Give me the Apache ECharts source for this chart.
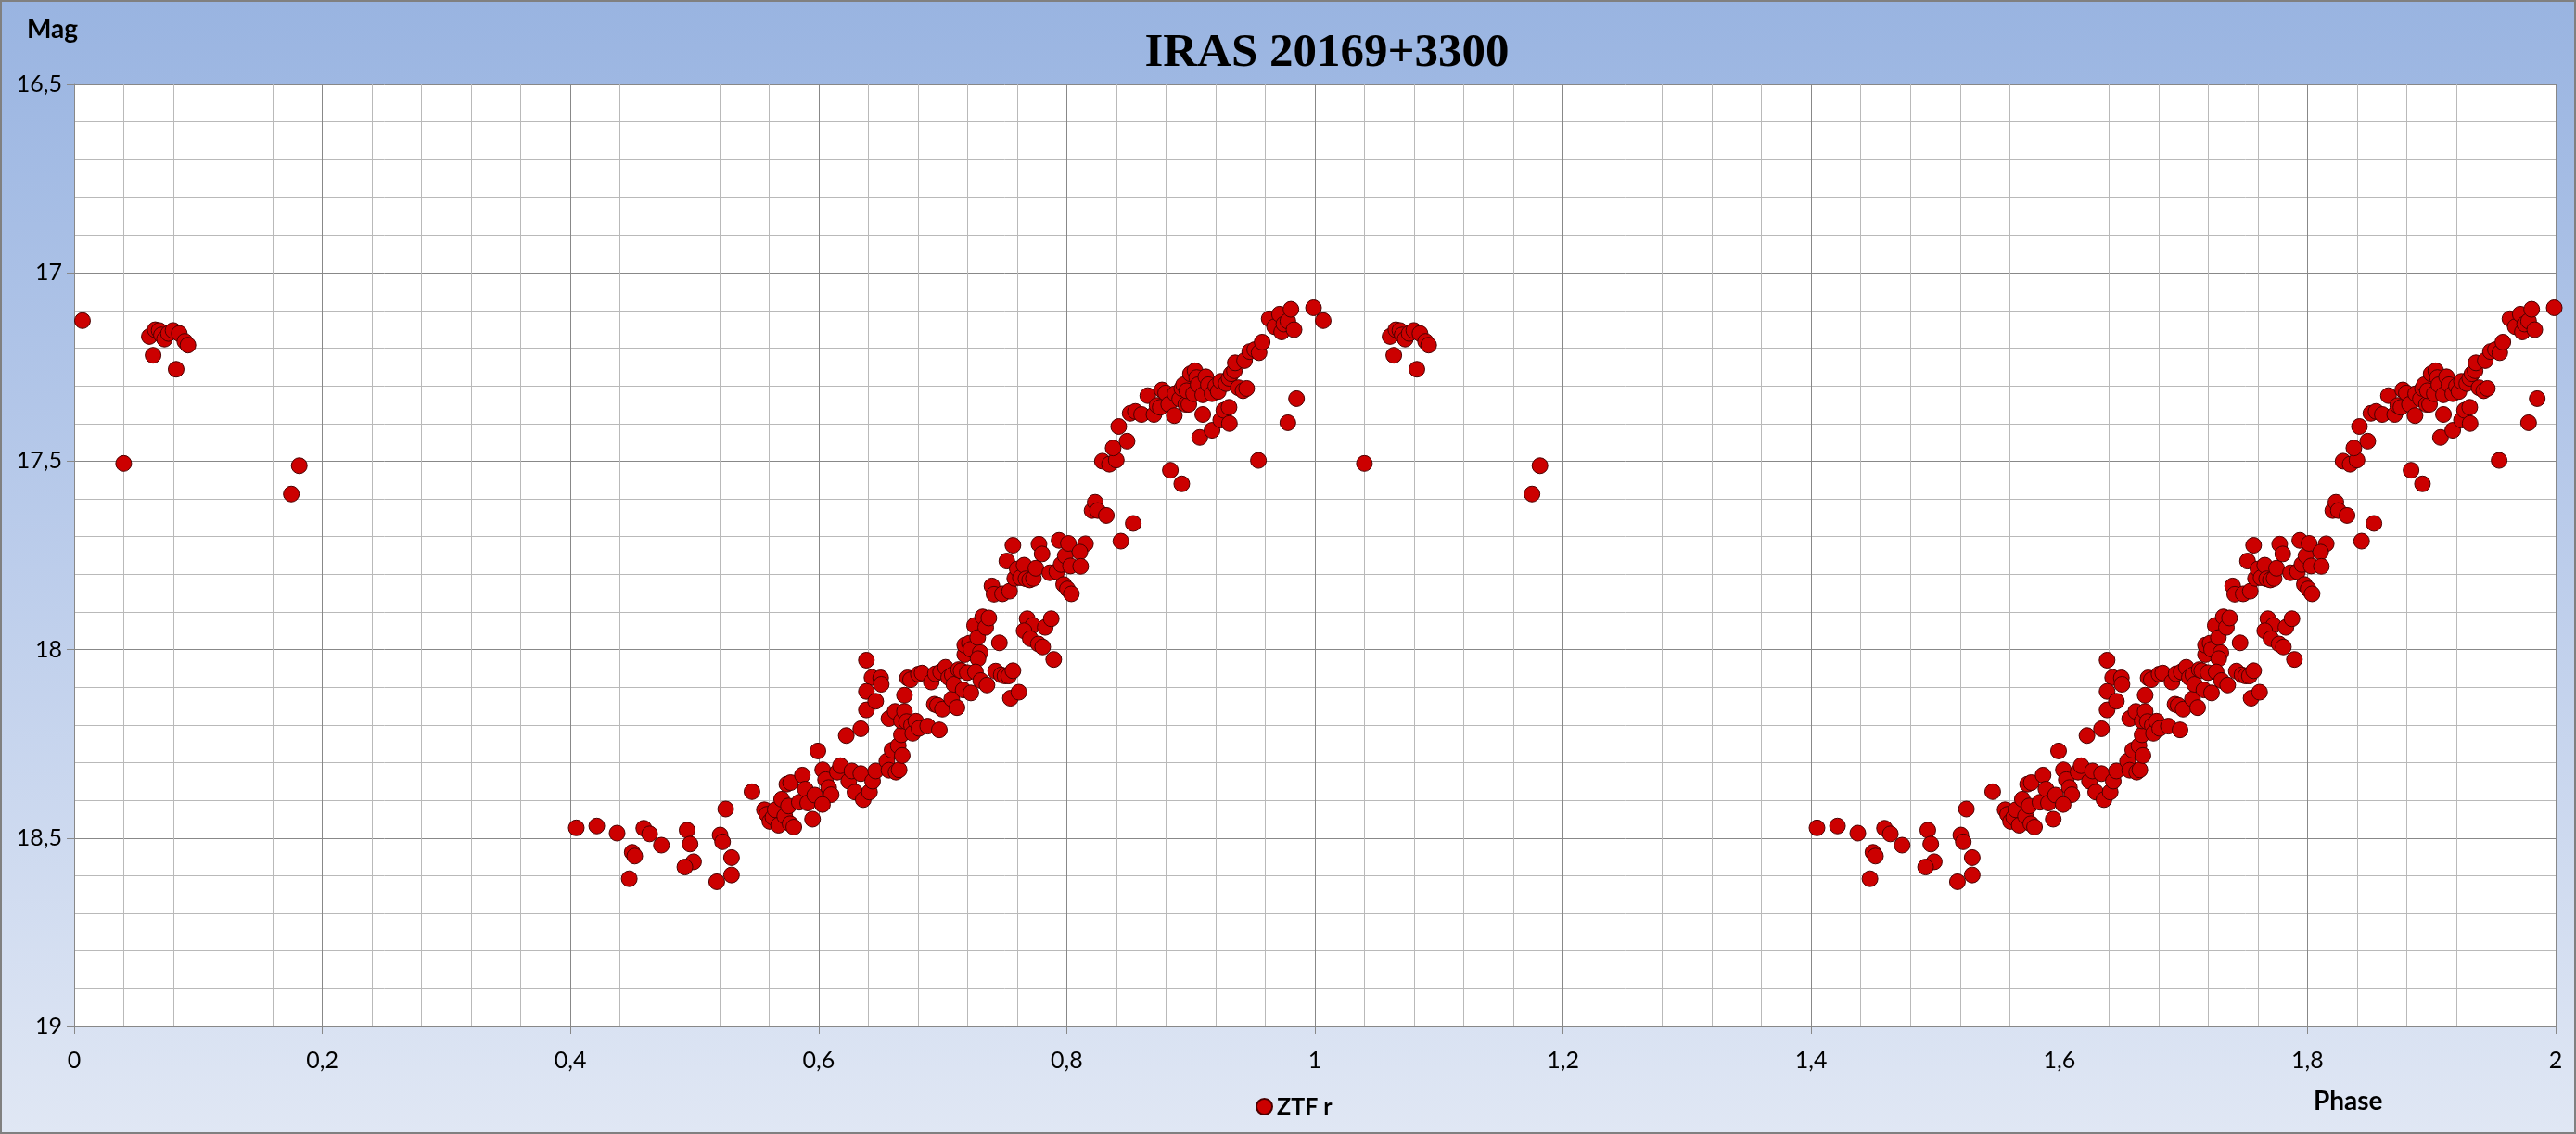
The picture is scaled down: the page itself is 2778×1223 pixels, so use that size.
<!DOCTYPE html>
<html><head><meta charset="utf-8">
<script src="https://cdn.jsdelivr.net/npm/echarts@6/dist/echarts.min.js"></script>
<style>html,body{margin:0;padding:0;background:#fff}#c{width:2778px;height:1223px}</style>
</head><body><div id="c"></div>
<script>
const chartTitle = 'IRAS 20169+3300';
const seriesName = 'ZTF r';
const yAxisTitle = 'Mag';
const xAxisTitle = 'Phase';

// Folded light curve (phase 0..1); the chart shows it over two cycles
const phase = [
0.0067,0.0399,0.0606,0.0636,0.0653,0.0685,0.0703,0.0728,0.0760,0.0797,0.0822,0.0847,0.0892,0.0917,0.1750,0.1814,
0.4047,0.4212,0.4376,0.4591,0.4638,0.4498,0.4518,0.4474,0.4733,0.4940,0.4964,0.4992,0.4922,0.5206,0.5226,0.5251,0.5298,0.5298,0.5179,0.5463,
0.5563,0.5583,0.5607,0.5632,0.5650,0.5677,0.5702,0.5727,0.5744,0.5774,0.5757,0.5770,0.5800,0.5844,0.5869,0.5892,0.5912,0.5969,0.5951,0.5994,
0.6033,0.6056,0.6081,0.6101,0.6031,0.6151,0.6176,0.6223,0.6243,0.6268,0.6293,0.6340,0.6340,0.6360,0.6385,0.6430,0.6385,0.6385,0.6460,0.6500,
0.6505,0.6410,0.6435,0.6460,0.6550,0.6567,0.6624,0.6649,0.6592,0.6642,0.6674,0.6667,0.6567,0.6617,0.6667,0.6692,0.6692,0.6709,0.6749,0.6759,
0.6784,0.6809,0.6879,0.6973,0.6716,0.6741,0.6804,0.6834,0.6908,0.6941,0.6933,0.6958,0.6998,0.6983,0.7023,0.7048,0.7077,0.7073,0.7115,0.7090,
0.7128,0.7148,0.7165,0.7178,0.7178,
0.7215,0.7227,0.7257,0.7282,0.7302,0.7285,0.7322,0.7347,0.7372,0.7198,0.7227,0.7264,0.7307,0.7357,0.7427,0.7457,0.7472,0.7502,0.7532,0.7566,
0.7546,0.7614,0.7397,0.7414,0.7482,0.7539,0.7517,0.7566,0.7581,0.7601,0.7626,0.7656,0.7671,0.7701,0.7731,0.7751,0.7776,0.7801,0.7863,0.7920,
0.7938,0.7955,0.7988,0.8013,0.8030,0.7975,0.8005,0.8037,0.7681,0.7726,0.7656,0.7706,0.7771,0.7806,0.7826,0.7875,0.7895,
0.8151,0.8106,0.8112,0.8204,0.8229,0.8249,0.8319,0.8436,0.8536,0.8287,0.8344,0.8399,0.8374,0.8486,0.8419,0.8511,0.8553,0.8603,0.8653,0.8703,
0.8728,0.8753,0.8768,0.8797,0.8822,0.8867,0.8872,0.8910,0.8927,0.8942,0.8959,0.8835,0.8927,
0.8984,0.8997,0.9034,0.9047,0.8967,0.9022,0.9059,0.9096,0.9096,0.9072,0.9121,0.9141,0.9171,0.9171,0.9201,0.9221,0.9241,0.9241,0.9266,0.9284,
0.9308,0.9311,0.9308,0.9326,0.9351,0.9358,0.9383,0.9421,0.9450,0.9433,0.9475,0.9515,0.9550,0.9575,0.9545,0.9632,0.9675,0.9715,0.9732,0.9750,
0.9782,0.9807,0.9832,0.9782,0.9852,0.9989
];
const mag = [
17.127,17.506,17.169,17.219,17.151,17.153,17.165,17.176,17.161,17.153,17.256,17.161,17.182,17.192,17.587,17.512,
18.473,18.468,18.487,18.474,18.489,18.538,18.548,18.608,18.519,18.479,18.516,18.563,18.577,18.492,18.510,18.423,18.552,18.598,18.616,18.377,
18.425,18.437,18.456,18.445,18.425,18.466,18.397,18.442,18.357,18.353,18.415,18.462,18.471,18.405,18.333,18.370,18.407,18.386,18.450,18.269,
18.319,18.345,18.366,18.385,18.411,18.325,18.308,18.228,18.349,18.322,18.378,18.329,18.210,18.398,18.028,18.074,18.111,18.160,18.137,18.075,
18.092,18.378,18.349,18.322,18.296,18.320,18.325,18.319,18.267,18.255,18.281,18.226,18.183,18.164,18.189,18.164,18.121,18.191,18.201,18.222,
18.190,18.209,18.203,18.213,18.075,18.080,18.065,18.062,18.086,18.064,18.145,18.148,18.158,18.059,18.047,18.074,18.067,18.131,18.154,18.092,
18.053,18.056,18.107,18.013,17.988,
17.983,17.999,17.936,17.968,18.008,18.024,17.913,17.941,17.916,18.061,18.115,18.059,18.082,18.094,18.057,17.982,18.067,18.070,18.070,18.056,
18.129,18.113,17.831,17.853,17.852,17.845,17.765,17.723,17.811,17.786,17.809,17.776,17.812,17.815,17.811,17.784,17.720,17.746,17.796,17.793,
17.710,17.774,17.751,17.718,17.778,17.827,17.839,17.852,17.918,17.936,17.950,17.971,17.985,17.993,17.941,17.918,18.026,
17.719,17.741,17.779,17.631,17.609,17.631,17.644,17.712,17.665,17.500,17.508,17.497,17.465,17.447,17.408,17.373,17.368,17.376,17.326,17.376,
17.352,17.357,17.311,17.319,17.349,17.379,17.321,17.335,17.307,17.297,17.349,17.524,17.560,
17.349,17.268,17.260,17.278,17.313,17.321,17.297,17.324,17.376,17.437,17.276,17.297,17.321,17.418,17.301,17.315,17.288,17.391,17.365,17.294,
17.357,17.400,17.280,17.268,17.260,17.239,17.305,17.313,17.307,17.233,17.209,17.204,17.212,17.184,17.498,17.122,17.143,17.110,17.157,17.136,
17.128,17.097,17.151,17.398,17.334,17.093
];
const cycles = [0, 1];

const xMin = 0, xMax = 2, xStep = 0.2;
const yMin = 16.5, yMax = 19, yStep = 0.5;

const points = [];
cycles.forEach(c => phase.forEach((p, i) => points.push([p + c, mag[i]])));

const fmt = v => String(Math.round(v * 10) / 10).replace('.', ',');
const labelFont = 'Lato, "Open Sans", sans-serif';
const majorLine = '#888888';
const minorLine = '#b9b9b9';

const chart = echarts.init(document.getElementById('c'), null, {renderer: 'canvas'});
chart.setOption({
  backgroundColor: {type: 'linear', x: 0, y: 0, x2: 0, y2: 1,
    colorStops: [{offset: 0, color: '#99b4e1'}, {offset: 0.5, color: '#bccdeb'}, {offset: 1, color: '#e0e7f4'}]},
  animation: false,
  title: {text: chartTitle, left: 1426, top: 27, textAlign: 'center',
    textStyle: {fontFamily: '"Liberation Serif", serif', fontWeight: 'bold', fontSize: 51, color: '#000'}},
  legend: {data: [seriesName], left: 1349, top: 1176, icon: 'circle', itemWidth: 17, itemHeight: 17, itemGap: 6,
    textStyle: {fontFamily: labelFont, fontWeight: 'bold', fontSize: 25, color: '#000'}},
  grid: {left: 80, top: 91, width: 2676, height: 1016, show: true, backgroundColor: '#ffffff', borderWidth: 0},
  xAxis: {type: 'value', min: xMin, max: xMax, interval: xStep,
    axisLine: {show: true, onZero: false, lineStyle: {color: majorLine, width: 1}},
    axisTick: {show: true, length: 8, lineStyle: {color: majorLine}},
    axisLabel: {formatter: fmt, margin: 24, fontFamily: labelFont, fontSize: 25, color: '#000'},
    splitLine: {show: true, lineStyle: {color: majorLine, width: 1}},
    minorTick: {show: true, splitNumber: 5, length: 0},
    minorSplitLine: {show: true, lineStyle: {color: minorLine, width: 1}}},
  yAxis: {type: 'value', inverse: true, min: yMin, max: yMax, interval: yStep,
    axisLine: {show: true, onZero: false, lineStyle: {color: majorLine, width: 1}},
    axisTick: {show: true, length: 8, lineStyle: {color: majorLine}},
    axisLabel: {formatter: fmt, margin: 13, fontFamily: labelFont, fontSize: 25, color: '#000'},
    splitLine: {show: true, lineStyle: {color: majorLine, width: 1}},
    minorTick: {show: true, splitNumber: 5, length: 0},
    minorSplitLine: {show: true, lineStyle: {color: minorLine, width: 1}}},
  graphic: [
    {type: 'text', left: 29, top: 18, style: {text: yAxisTitle, font: 'bold 28px ' + labelFont, fill: '#000'}},
    {type: 'text', left: 2495, top: 1174, style: {text: xAxisTitle, font: 'bold 28px ' + labelFont, fill: '#000'}},
    {type: 'rect', shape: {x: 1, y: 1, width: 2776, height: 1221}, style: {fill: 'none', stroke: '#808080', lineWidth: 2}, silent: true}
  ],
  series: [{name: seriesName, type: 'scatter', data: points, symbol: 'circle', symbolSize: 17,
    itemStyle: {color: '#cc0000', borderColor: '#4a0000', borderWidth: 1, opacity: 1}}]
});
</script></body></html>
